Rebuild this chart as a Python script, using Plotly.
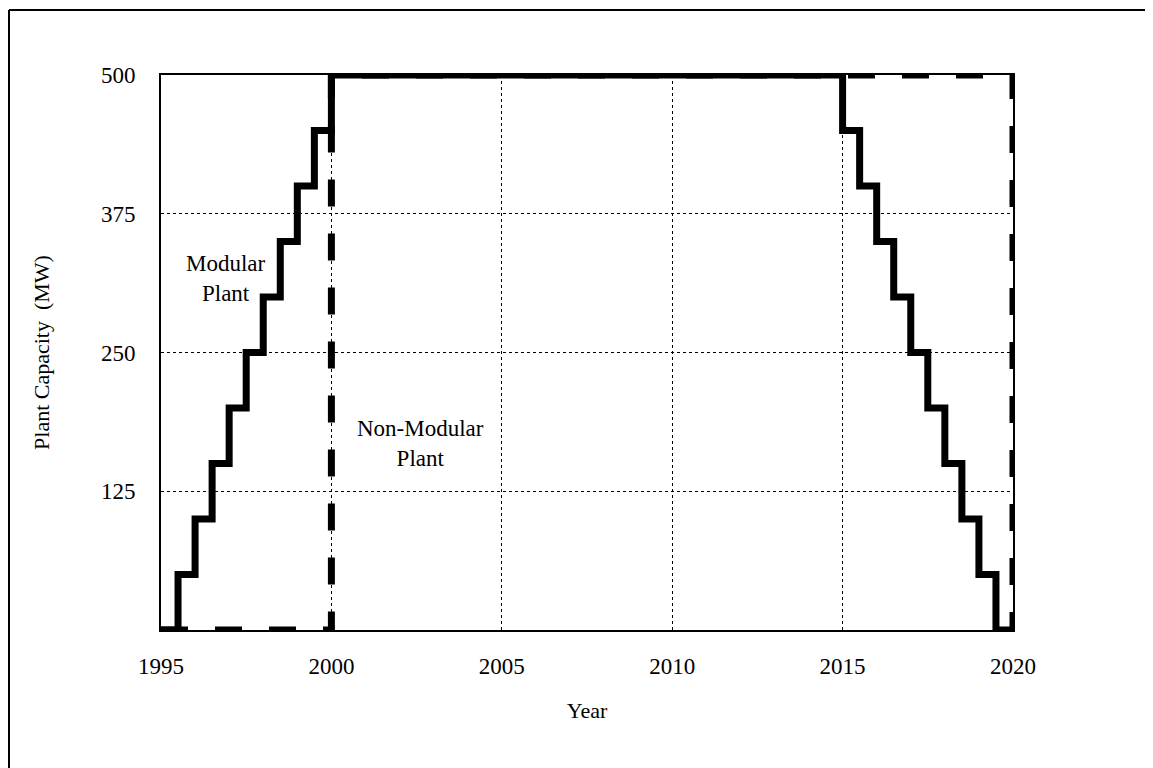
import plotly.graph_objects as go

# Modular plant: capacity ramps up in 50 MW steps every half year, then down
modular_years = [1995, 1995.5, 1996, 1996.5, 1997, 1997.5, 1998, 1998.5, 1999, 1999.5, 2000,
                 2015, 2015.5, 2016, 2016.5, 2017, 2017.5, 2018, 2018.5, 2019, 2019.5, 2020]
modular_mw = [0, 50, 100, 150, 200, 250, 300, 350, 400, 450, 500,
              450, 400, 350, 300, 250, 200, 150, 100, 50, 0, 0]

# Non-modular plant: full capacity from 2000 to 2020
nonmod_years = [1995, 2000, 2020, 2020]
nonmod_mw = [0, 500, 500, 0]

x_ticks = [1995, 2000, 2005, 2010, 2015, 2020]
y_ticks = [125, 250, 375, 500]

FONT = "Liberation Serif"

fig = go.Figure()
fig.add_trace(go.Scatter(
    x=nonmod_years, y=nonmod_mw, mode="lines", line_shape="hv",
    line=dict(color="black", width=7, dash="27px,27px"),
    cliponaxis=False, showlegend=False, hoverinfo="skip"))
fig.add_trace(go.Scatter(
    x=modular_years, y=modular_mw, mode="lines", line_shape="hv",
    line=dict(color="black", width=7),
    cliponaxis=False, showlegend=False, hoverinfo="skip"))

fig.add_annotation(x=1996.9, y=317, text="Modular<br>Plant", showarrow=False,
                   font=dict(family=FONT, size=23, color="black"))
fig.add_annotation(x=2002.6, y=168, text="Non-Modular<br>Plant", showarrow=False,
                   font=dict(family=FONT, size=23, color="black"))

# outer frame (top and left edges visible in the reference)
fig.add_shape(type="line", xref="paper", yref="paper",
              x0=-0.1784, x1=1.2, y0=1.117, y1=1.117,
              line=dict(color="black", width=2))
fig.add_shape(type="line", xref="paper", yref="paper",
              x0=-0.1784, x1=-0.1784, y0=1.117, y1=-0.3,
              line=dict(color="black", width=2))

fig.update_layout(
    width=1153, height=768,
    margin=dict(l=153, r=148, t=67, b=146),
    paper_bgcolor="white", plot_bgcolor="white",
    font=dict(family=FONT, size=23, color="black"),
    xaxis=dict(range=[1995, 2020], tickvals=x_ticks, ticktext=[str(v) for v in x_ticks],
               showline=True, linecolor="black", linewidth=2, mirror=True,
               showgrid=True, gridcolor="black", gridwidth=1, griddash="dot",
               zeroline=False, ticks="", ticklabelstandoff=14,
               title=dict(text="Year", standoff=25, font=dict(size=22))),
    yaxis=dict(range=[0, 500], tickvals=y_ticks,
               showline=True, linecolor="black", linewidth=2, mirror=True,
               showgrid=True, gridcolor="black", gridwidth=1, griddash="dot",
               zeroline=False, ticks="", ticklabelstandoff=19,
               title=dict(text="Plant Capacity  (MW)", standoff=45, font=dict(size=22))),
)

fig.write_html("out.html")
